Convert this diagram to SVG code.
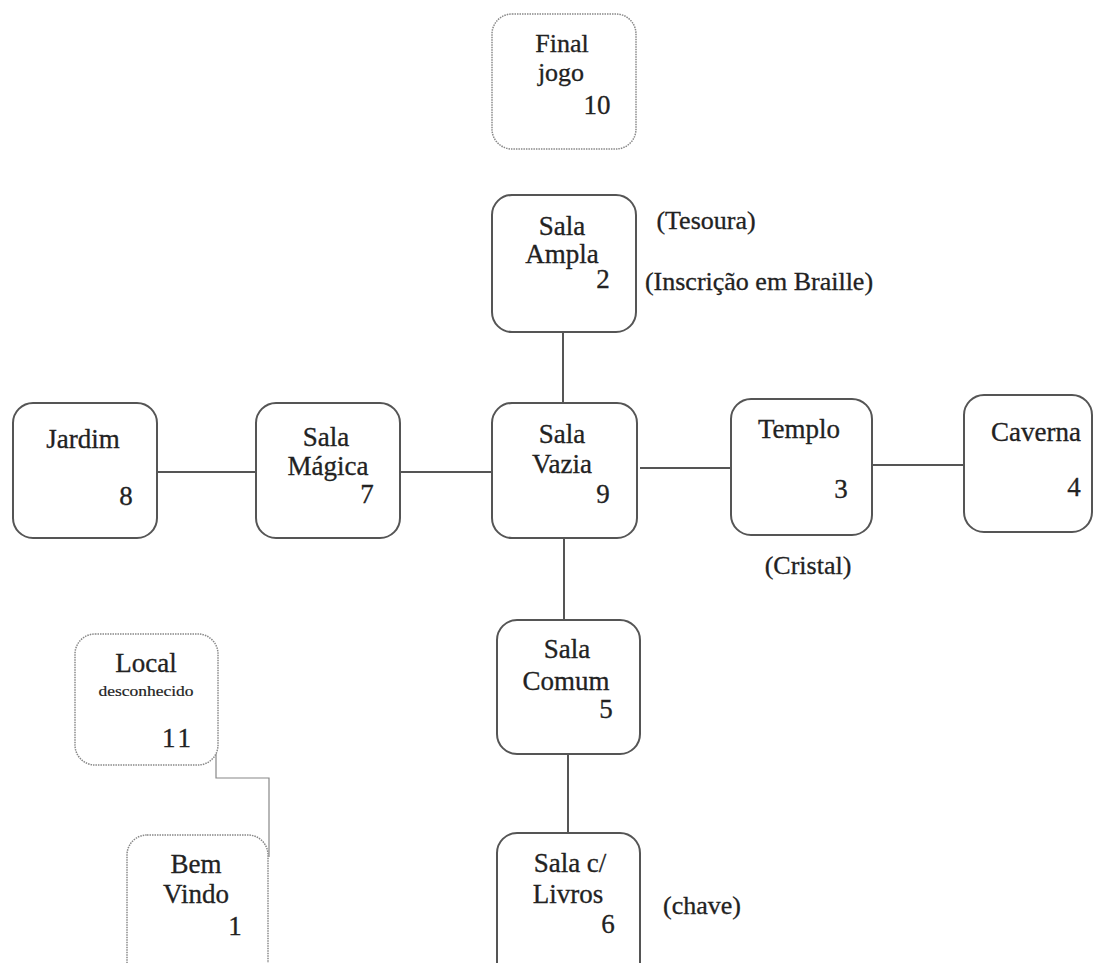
<svg xmlns="http://www.w3.org/2000/svg" width="1094" height="963" viewBox="0 0 1094 963">
<style>
.box{fill:#fff;stroke:#555;stroke-width:2}
.dot{fill:#fff;stroke:#888;stroke-width:1.5;stroke-dasharray:1.5 1}
text{font-family:'Liberation Serif','DejaVu Serif',serif;fill:#222;stroke:#222;stroke-width:0.3;text-anchor:middle}
.t{font-size:27px}
.t2{font-size:26px}
.lbl{font-size:26px}
.sm{font-size:15px;stroke-width:0.2}
.c{stroke:#555;stroke-width:2;fill:none}
.cd{stroke:#888;stroke-width:1.2;fill:none}
</style>
<rect width="1094" height="963" fill="#fff"/>
<g id="connectors">
<line class="c" x1="563" y1="332" x2="563" y2="403"/>
<line class="c" x1="157" y1="472" x2="256" y2="472"/>
<line class="c" x1="400" y1="472" x2="492" y2="472"/>
<line class="c" x1="640" y1="468" x2="731" y2="468"/>
<line class="c" x1="872" y1="465" x2="964" y2="465"/>
<line class="c" x1="564" y1="538" x2="564" y2="620"/>
<line class="c" x1="568" y1="754" x2="568" y2="833"/>
<polyline class="cd" points="216,752 216,778 269,778 269,857"/>
</g>
<g id="n10">
<rect class="dot" x="492" y="14" width="144" height="135" rx="20"/>
<text class="t2" x="562" y="52">Final</text>
<text class="t2" x="561" y="81">jogo</text>
<text class="t" x="597" y="114">10</text>
</g>
<g id="n2">
<rect class="box" x="492" y="195" width="144" height="137" rx="20"/>
<text class="t" x="562" y="235">Sala</text>
<text class="t" x="562" y="263">Ampla</text>
<text class="t" x="603" y="288">2</text>
</g>
<text class="lbl" x="706" y="229">(Tesoura)</text>
<text class="lbl" x="759" y="290">(Inscrição em Braille)</text>
<g id="n9">
<rect class="box" x="492" y="403" width="145" height="135" rx="20"/>
<text class="t" x="562" y="443">Sala</text>
<text class="t" x="562" y="473">Vazia</text>
<text class="t" x="603" y="503">9</text>
</g>
<g id="n8">
<rect class="box" x="13" y="403" width="144" height="135" rx="20"/>
<text class="t" x="83" y="448">Jardim</text>
<text class="t" x="126" y="505">8</text>
</g>
<g id="n7">
<rect class="box" x="256" y="403" width="144" height="135" rx="20"/>
<text class="t" x="326" y="446">Sala</text>
<text class="t" x="328" y="475">Mágica</text>
<text class="t" x="367" y="503">7</text>
</g>
<g id="n3">
<rect class="box" x="731" y="399" width="141" height="136" rx="20"/>
<text class="t" x="799" y="438">Templo</text>
<text class="t" x="841" y="498">3</text>
</g>
<text class="lbl" x="808" y="574">(Cristal)</text>
<g id="n4">
<rect class="box" x="964" y="395" width="128" height="137" rx="20"/>
<text class="t" x="1036" y="441">Caverna</text>
<text class="t" x="1074" y="496">4</text>
</g>
<g id="n5">
<rect class="box" x="497" y="620" width="143" height="134" rx="20"/>
<text class="t" x="567" y="658">Sala</text>
<text class="t" x="566" y="690">Comum</text>
<text class="t" x="606" y="718">5</text>
</g>
<g id="n6">
<rect class="box" x="497" y="833" width="143" height="150" rx="20"/>
<text class="t" x="570" y="872">Sala c/</text>
<text class="t" x="568" y="903">Livros</text>
<text class="t" x="608" y="933">6</text>
</g>
<text class="lbl" x="702" y="914">(chave)</text>
<g id="n11">
<rect class="dot" x="75" y="634" width="143" height="131" rx="20"/>
<text class="t" x="146" y="672">Local</text>
<text class="sm" x="146" y="696" textLength="95" lengthAdjust="spacingAndGlyphs">desconhecido</text>
<text class="t" x="178" y="747" letter-spacing="3">11</text>
</g>
<g id="n1">
<rect class="dot" x="127" y="835" width="141" height="150" rx="20"/>
<text class="t" x="196" y="873">Bem</text>
<text class="t" x="196" y="903">Vindo</text>
<text class="t" x="235" y="935">1</text>
</g>
</svg>
